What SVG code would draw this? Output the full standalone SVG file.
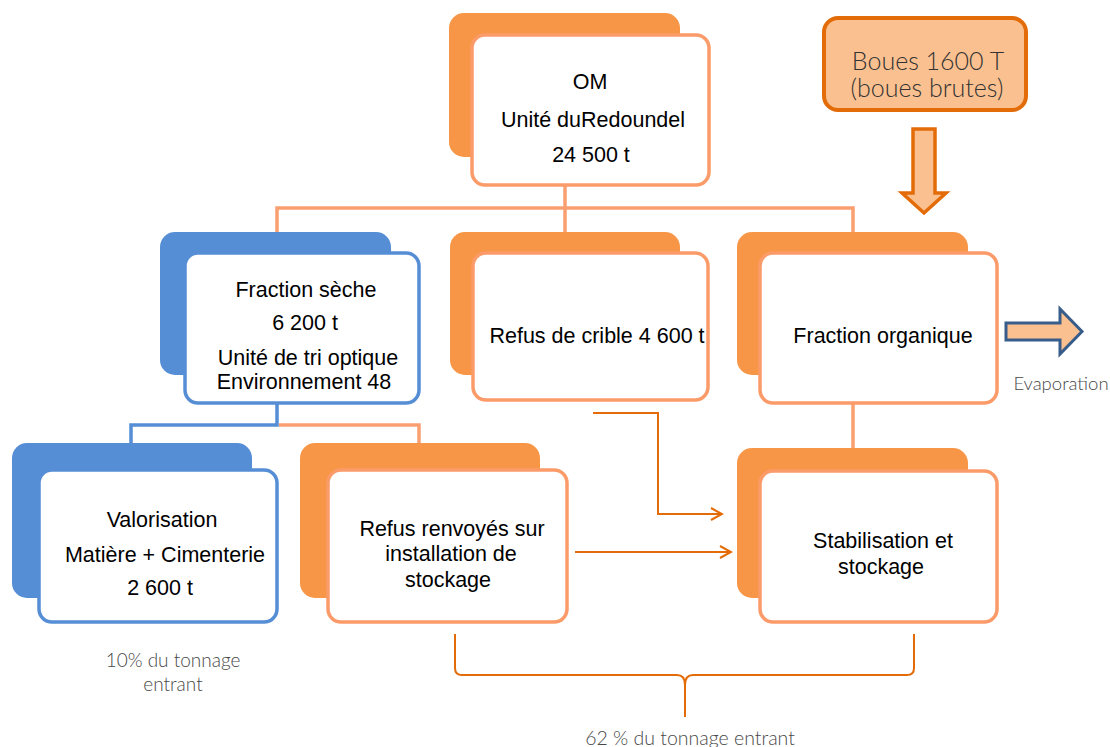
<svg xmlns="http://www.w3.org/2000/svg" width="1110" height="747" viewBox="0 0 1110 747">
<defs>
<style>
.back-o{fill:#F79646}
.back-b{fill:#558ED5}
.front-o{fill:#fff;stroke:#FB9B69;stroke-width:3.5}
.front-b{fill:#fff;stroke:#558ED5;stroke-width:3.5}
.t{font-family:"Liberation Sans",Arial,sans-serif;font-size:21.5px;fill:#000;text-anchor:middle}
.lt{font-family:Lato,"Open Sans",sans-serif;font-weight:300;fill:#484848;text-anchor:middle}
.conn-o{fill:none;stroke:#FA9F70;stroke-width:3.5}
.conn-b{fill:none;stroke:#558ED5;stroke-width:3.5}
.arr{fill:none;stroke:#E36C09;stroke-width:2}
</style>
<marker id="chev" markerWidth="14" markerHeight="14" refX="12" refY="7" orient="auto" markerUnits="userSpaceOnUse">
<path d="M1,1 L12,7 L1,13" fill="none" stroke="#E36C09" stroke-width="2"/>
</marker>
</defs>

<g id="connectors">
<path class="conn-o" d="M565,185 V208 M277,232 V208 H853 V232 M565,208 V232"/>
<path class="conn-b" d="M277,403 V425 H131 V444"/>
<path class="conn-o" d="M279,425 H419 V444"/>
<path class="conn-o" d="M853,403 V448"/>
<path class="arr" d="M593,413 H658 V514 H722" marker-end="url(#chev)"/>
<path class="arr" d="M575,552 H731" marker-end="url(#chev)"/>
</g>

<g id="node-om">
<rect class="back-o" x="449" y="13" width="231" height="144" rx="15"/>
<rect class="front-o" x="472" y="35" width="237" height="150" rx="13"/>
<text class="t" x="590" y="89">OM</text>
<text class="t" x="593" y="127">Unité duRedoundel</text>
<text class="t" x="591" y="162">24 500 t</text>
</g>

<g id="node-boues">
<rect x="824" y="18" width="202" height="92" rx="14" fill="#FAC090" stroke="#E36C09" stroke-width="4"/>
<text class="lt" x="928" y="70" font-size="25" style="fill:#333">Boues 1600 T</text>
<text class="lt" x="927" y="97" font-size="25" style="fill:#333">(boues brutes)</text>
</g>

<g id="arrow-down">
<path d="M913,129 H935 V193 H946 L924,213 L902,193 H913 Z" fill="#FAC090" stroke="#E36C09" stroke-width="3.5"/>
</g>

<g id="node-fraction-seche">
<rect class="back-b" x="160" y="232" width="231" height="143" rx="15"/>
<rect class="front-b" x="185" y="253" width="234" height="150" rx="13"/>
<text class="t" x="306" y="297">Fraction sèche</text>
<text class="t" x="305" y="330">6 200 t</text>
<text class="t" x="308" y="365">Unité de tri optique</text>
<text class="t" x="304" y="389">Environnement 48</text>
</g>

<g id="node-refus-crible">
<rect class="back-o" x="450" y="232" width="230" height="143" rx="15"/>
<rect class="front-o" x="473" y="253" width="235" height="147" rx="13"/>
<text class="t" x="597" y="343">Refus de crible 4 600 t</text>
</g>

<g id="node-fraction-organique">
<rect class="back-o" x="737" y="232" width="231" height="143" rx="15"/>
<rect class="front-o" x="760" y="253" width="237" height="150" rx="13"/>
<text class="t" x="883" y="343">Fraction organique</text>
</g>

<g id="arrow-evaporation">
<path d="M1006,323 H1060 V309 L1082,331.5 L1060,354 V340 H1006 Z" fill="#FAC090" stroke="#385D8A" stroke-width="3"/>
<text class="lt" x="1061" y="390" font-size="18.5">Evaporation</text>
</g>

<g id="node-valorisation">
<rect class="back-b" x="12" y="443" width="240" height="155" rx="15"/>
<rect class="front-b" x="39" y="470" width="238" height="152" rx="13"/>
<text class="t" x="162" y="527">Valorisation</text>
<text class="t" x="165" y="562">Matière + Cimenterie</text>
<text class="t" x="160" y="595">2 600 t</text>
</g>

<g id="node-refus-renvoyes">
<rect class="back-o" x="300" y="443" width="240" height="155" rx="15"/>
<rect class="front-o" x="328" y="470" width="239" height="152" rx="13"/>
<text class="t" x="452" y="536">Refus renvoyés sur</text>
<text class="t" x="451" y="561">installation de</text>
<text class="t" x="448" y="587">stockage</text>
</g>

<g id="node-stabilisation">
<rect class="back-o" x="737" y="448" width="231" height="150" rx="15"/>
<rect class="front-o" x="760" y="471" width="237" height="151" rx="13"/>
<text class="t" x="883" y="548">Stabilisation et</text>
<text class="t" x="881" y="574">stockage</text>
</g>

<g id="label-10">
<text class="lt" x="173" y="667" font-size="19">10% du tonnage</text>
<text class="lt" x="173" y="691" font-size="19">entrant</text>
</g>

<g id="brace">
<path class="arr" d="M455,634 V668 Q455,675 462,675 H677 Q685,675 685,685 V717 M685,685 Q685,675 693,675 H907 Q914,675 914,668 V634"/>
<text class="lt" x="690" y="745" font-size="19.5">62 % du tonnage entrant</text>
</g>
</svg>
